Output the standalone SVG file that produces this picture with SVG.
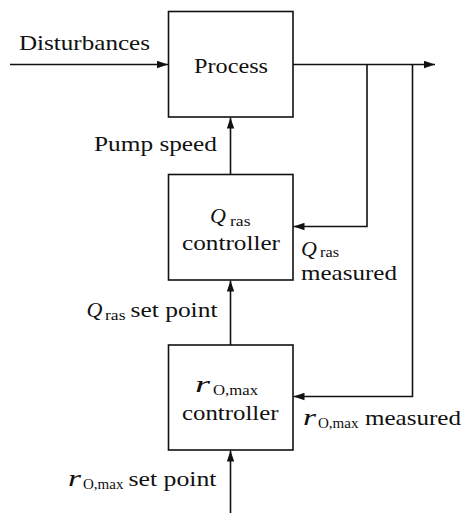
<svg xmlns="http://www.w3.org/2000/svg" width="464" height="513" viewBox="0 0 464 513">
<style>
.box{fill:#fff;stroke:#111;stroke-width:1.6}
.ln{fill:none;stroke:#111;stroke-width:1.6}
</style>
<defs>
<marker id="ah" markerUnits="userSpaceOnUse" markerWidth="12" markerHeight="8" refX="11" refY="4" orient="auto">
<path d="M0,0.3 L11,4 L0,7.7 Z" fill="#111"/>
</marker>
</defs>
<g id="connectors">
<path class="ln" d="M10,64.5 H168" marker-end="url(#ah)"/>
<path class="ln" d="M293,64.5 H435" marker-end="url(#ah)"/>
<path class="ln" d="M367,64.5 V226.5 H293.5" marker-end="url(#ah)"/>
<path class="ln" d="M412.5,64.5 V396.5 H293.5" marker-end="url(#ah)"/>
<path class="ln" d="M230.5,174.5 V117.5" marker-end="url(#ah)"/>
<path class="ln" d="M230.5,345 V280.5" marker-end="url(#ah)"/>
<path class="ln" d="M230.5,513 V450.5" marker-end="url(#ah)"/>
</g>
<g id="labels" fill="#111">
<text font-family="Liberation Serif" font-size="22" x="19" y="50" textLength="131" lengthAdjust="spacingAndGlyphs">Disturbances</text>
<text font-family="Liberation Serif" font-size="22" x="94" y="151" textLength="123" lengthAdjust="spacingAndGlyphs">Pump speed</text>
<g id="q-measured">
<text font-family="Liberation Serif" font-size="22" font-style="italic" x="301" y="256">Q</text>
<text font-family="Liberation Serif" font-size="15" x="320" y="257" textLength="19" lengthAdjust="spacingAndGlyphs">ras</text>
<text font-family="Liberation Serif" font-size="22" x="301" y="280" textLength="96" lengthAdjust="spacingAndGlyphs">measured</text>
</g>
<g id="q-setpoint">
<text font-family="Liberation Serif" font-size="22" font-style="italic" x="86.5" y="316.5">Q</text>
<text font-family="Liberation Serif" font-size="15" x="105" y="320" textLength="20.5" lengthAdjust="spacingAndGlyphs">ras</text>
<text font-family="Liberation Serif" font-size="22" x="130.5" y="316.5" textLength="87" lengthAdjust="spacingAndGlyphs">set point</text>
</g>
<g id="r-measured">
<text font-family="Liberation Serif" font-size="24" font-style="italic" x="303" y="424.5" textLength="13" lengthAdjust="spacingAndGlyphs">r</text>
<text font-family="Liberation Serif" font-size="15" x="318" y="428" textLength="40.5" lengthAdjust="spacingAndGlyphs">O,max</text>
<text font-family="Liberation Serif" font-size="22" x="365" y="424.5" textLength="96" lengthAdjust="spacingAndGlyphs">measured</text>
</g>
<g id="r-setpoint">
<text font-family="Liberation Serif" font-size="24" font-style="italic" x="68" y="485.5" textLength="13" lengthAdjust="spacingAndGlyphs">r</text>
<text font-family="Liberation Serif" font-size="15" x="83" y="489" textLength="40.5" lengthAdjust="spacingAndGlyphs">O,max</text>
<text font-family="Liberation Serif" font-size="22" x="128.5" y="485.5" textLength="88" lengthAdjust="spacingAndGlyphs">set point</text>
</g>
</g>
<g id="process" fill="#111">
<rect class="box" x="168.5" y="11.5" width="124.5" height="105.5"/>
<text font-family="Liberation Serif" font-size="22" x="194" y="72.5" textLength="74" lengthAdjust="spacingAndGlyphs">Process</text>
</g>
<g id="q-controller" fill="#111">
<rect class="box" x="168.5" y="174.5" width="124.5" height="105.5"/>
<text font-family="Liberation Serif" font-size="22" font-style="italic" x="210" y="223">Q</text>
<text font-family="Liberation Serif" font-size="15" x="230" y="226" textLength="20.5" lengthAdjust="spacingAndGlyphs">ras</text>
<text font-family="Liberation Serif" font-size="22" x="182" y="250" textLength="98" lengthAdjust="spacingAndGlyphs">controller</text>
</g>
<g id="r-controller" fill="#111">
<rect class="box" x="168.5" y="345" width="124.5" height="105"/>
<text font-family="Liberation Serif" font-size="24" font-style="italic" x="195" y="391.5" textLength="15" lengthAdjust="spacingAndGlyphs">r</text>
<text font-family="Liberation Serif" font-size="15" x="213" y="395" textLength="45" lengthAdjust="spacingAndGlyphs">O,max</text>
<text font-family="Liberation Serif" font-size="22" x="182" y="420" textLength="96.5" lengthAdjust="spacingAndGlyphs">controller</text>
</g>
</svg>
